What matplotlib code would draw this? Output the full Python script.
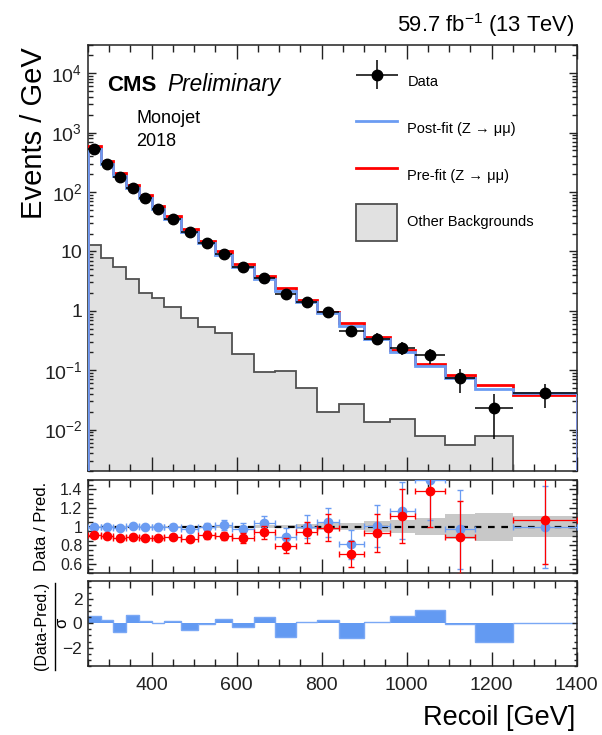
import numpy as np
import matplotlib.pyplot as plt
from matplotlib.container import ErrorbarContainer
from matplotlib.legend_handler import HandlerErrorbar
from matplotlib.lines import Line2D
from matplotlib.patches import Patch
from matplotlib.ticker import MultipleLocator, FixedLocator, FuncFormatter, NullFormatter

plt.rcParams['font.family'] = ['Liberation Sans', 'DejaVu Sans']
plt.rcParams['mathtext.fontset'] = 'custom'
plt.rcParams['mathtext.rm'] = 'Liberation Sans'
plt.rcParams['mathtext.it'] = 'Liberation Sans:italic'
plt.rcParams['mathtext.bf'] = 'Liberation Sans:bold'

# recoil bins (GeV)
edges = np.array([250, 280, 310, 340, 370, 400, 430, 470, 510, 550, 590, 640,
                  690, 740, 790, 840, 900, 960, 1020, 1090, 1160, 1250, 1400])

# events / GeV
data = np.array([535, 297, 181, 118, 78, 51, 35, 21, 13.7, 9.0, 5.4, 3.55,
                 1.92, 1.41, 0.96, 0.45, 0.34, 0.24, 0.177, 0.073, 0.023, 0.041])
data_err = np.array([4.2, 3.1, 2.5, 2.0, 1.6, 1.3, 0.94, 0.72, 0.58, 0.47, 0.33, 0.27,
                     0.20, 0.17, 0.14, 0.087, 0.075, 0.063, 0.05, 0.032, 0.016, 0.018])
postfit = np.array([535, 297, 184.7, 116.8, 78, 51, 35, 21.5, 13.7, 8.82, 5.54, 3.43,
                    2.16, 1.41, 0.919, 0.556, 0.337, 0.205, 0.118, 0.0753, 0.049, 0.041])
prefit = np.array([588, 330, 206.9, 132.6, 88.6, 58.0, 39.3, 24.1, 15.05, 10.0, 6.17, 3.78,
                   2.415, 1.50, 0.97, 0.634, 0.366, 0.216, 0.128, 0.0825, 0.056, 0.0383])
other = np.array([12.6, 7.6, 5.5, 3.4, 2.02, 1.63, 1.18, 0.77, 0.53, 0.43, 0.184, 0.094,
                  0.097, 0.050, 0.0195, 0.0275, 0.0136, 0.0151, 0.0079, 0.0056, 0.0079, 0.0])

# relative uncertainty of the prediction (ratio band)
band = np.array([0.01, 0.01, 0.01, 0.01, 0.01, 0.01, 0.01, 0.01, 0.01, 0.01, 0.01, 0.015,
                 0.02, 0.025, 0.035, 0.035, 0.06, 0.07, 0.09, 0.13, 0.15, 0.11])

# (data - pred) / sigma
pull = np.array([0.61, 0.26, -0.75, 0.67, 0.15, 0.02, 0.2, -0.53, -0.05, 0.34, -0.34, 0.53,
                 -1.1, 0.12, 0.31, -1.21, 0.07, 0.56, 1.1, -0.07, -1.52, 0.02])

centers = 0.5 * (edges[1:] + edges[:-1])
halfw = 0.5 * np.diff(edges)

blue = '#6b9cf2'
red = '#ff0000'
grayfill = '#e1e1e1'
grayedge = '#505050'

fig = plt.figure(figsize=(6.02, 7.35), dpi=100)
ax = fig.add_axes([0.146, 0.359, 0.812, 0.580])
ax2 = fig.add_axes([0.146, 0.220, 0.812, 0.127])
ax3 = fig.add_axes([0.146, 0.094, 0.812, 0.116])

# main panel
ax.stairs(other, edges, baseline=1e-5, fill=True, color=grayfill, zorder=1)
ax.stairs(other, edges, baseline=1e-5, color=grayedge, lw=1.3, zorder=2)
ax.stairs(prefit, edges, color=red, lw=2, zorder=3)
ax.stairs(postfit, edges, color=blue, lw=2, zorder=4)
dat = ax.errorbar(centers, data, xerr=halfw, yerr=data_err, fmt='o', color='black',
                  ms=7.5, elinewidth=1.1, capsize=0, zorder=5)
ax.set_yscale('log')
ylo, yhi = 2e-3, 3e4
ax.set_ylim(ylo, yhi)


def logfmt(v, pos):
    if abs(v - 1) < 1e-9:
        return '1'
    if abs(v - 10) < 1e-9:
        return '10'
    return r'$10^{%d}$' % round(np.log10(v))


decades = 10.0 ** np.arange(-3, 5)
major = [d for d in decades if ylo <= d <= yhi]
minor = [d * s for d in decades for s in range(2, 10) if ylo <= d * s <= yhi]
ax.yaxis.set_major_locator(FixedLocator(major))
ax.yaxis.set_minor_locator(FixedLocator(minor))
ax.yaxis.set_major_formatter(FuncFormatter(logfmt))
ax.yaxis.set_minor_formatter(NullFormatter())

handles = [dat,
           Line2D([], [], color=blue, lw=2),
           Line2D([], [], color=red, lw=2),
           Patch(facecolor=grayfill, edgecolor=grayedge, lw=1.3)]
labels = ['Data', 'Post-fit (Z \u2192 \u03bc\u03bc)', 'Pre-fit (Z \u2192 \u03bc\u03bc)',
          'Other Backgrounds']
ax.legend(handles, labels, loc='upper left', bbox_to_anchor=(349 / 602, 1 - 56 / 735),
          bbox_transform=fig.transFigure, frameon=False, fontsize=10.5, borderpad=0,
          handlelength=2.8, handleheight=3.6, labelspacing=0.62, handletextpad=0.7,
          handler_map={ErrorbarContainer: HandlerErrorbar(xerr_size=1.45, yerr_size=1.0)})

# ratio panel
rb = data / postfit
rb_err = data_err / postfit
rr = data / prefit
rr_err = data_err / prefit
# points outside the range are not shown
rb_show = np.where(rb < 0.5, np.nan, rb)
rr_show = np.where(rr < 0.5, np.nan, rr)

ax2.stairs(1 + band, edges, baseline=1 - band, fill=True, color='#c8c8c8', zorder=1)
ax2.axhline(1, color='black', lw=1.6, ls=(0, (3, 3)), zorder=2)
ax2.errorbar(centers, rb_show, xerr=halfw, yerr=rb_err, fmt='o', color=blue, ms=6,
             elinewidth=0.9, capsize=2, zorder=3)
ax2.errorbar(centers, rr_show, xerr=halfw, yerr=rr_err, fmt='o', color=red, ms=6,
             elinewidth=0.9, capsize=2, zorder=4)
ax2.set_ylim(0.5, 1.5)
ax2.set_yticks([0.6, 0.8, 1.0, 1.2, 1.4])
ax2.set_yticklabels(['0.6', '0.8', '1', '1.2', '1.4'])
ax2.yaxis.set_minor_locator(MultipleLocator(0.05))

# pull panel
ax3.stairs(pull, edges, baseline=0, fill=True, color='#639af2')
ax3.stairs(pull, edges, baseline=None, color='#7aa8f5', lw=1)
ax3.set_ylim(-3.5, 3.5)
ax3.set_yticks([-2, 0, 2])
ax3.yaxis.set_minor_locator(MultipleLocator(0.5))

for a in (ax, ax2, ax3):
    a.set_xlim(250, 1400)
    a.xaxis.set_major_locator(MultipleLocator(200))
    a.xaxis.set_minor_locator(MultipleLocator(50))
    a.tick_params(which='both', direction='in', top=True, right=True, colors='#222222')
    a.tick_params(axis='x', which='major', length=10, width=1)
    a.tick_params(axis='x', which='minor', length=5, width=1)
    a.tick_params(axis='y', which='major', length=6, width=1, pad=4)
    a.tick_params(axis='y', which='minor', length=3.5, width=1)
    for s in a.spines.values():
        s.set_linewidth(1.1)
        s.set_color('#222222')

ax.tick_params(labelbottom=False, labelsize=14)
ax2.tick_params(labelbottom=False, labelsize=11.5)
ax3.tick_params(axis='y', labelsize=12.5)
ax3.tick_params(axis='x', labelsize=14, pad=8)
ax3.tick_params(axis='y', which='major', length=3.5)
ax3.tick_params(axis='y', which='minor', length=2)

# texts
fig.text(575 / 602, 1 - 32 / 735, r'59.7 fb$^{-1}$ (13 TeV)', ha='right', va='baseline',
         fontsize=15.8)
fig.text(107 / 602, 1 - 91 / 735, 'CMS', fontweight='bold', fontsize=16, va='baseline')
fig.text(167 / 602, 1 - 91 / 735, 'Preliminary', fontstyle='italic', fontsize=16.3,
         va='baseline')
fig.text(136 / 602, 1 - 123 / 735, 'Monojet', fontsize=13, va='baseline')
fig.text(136 / 602, 1 - 146 / 735, '2018', fontsize=13, va='baseline')

fig.text(34 / 602, 1 - 47 / 735, 'Events / GeV', rotation=90, ha='center', va='top',
         fontsize=21)
fig.text(41 / 602, 1 - 526 / 735, 'Data / Pred.', rotation=90, ha='center', va='center',
         fontsize=12)
fig.text(42 / 602, 1 - 626 / 735, '(Data-Pred.)', rotation=90, ha='center', va='center',
         fontsize=11.5)
fig.add_artist(Line2D([55 / 602, 55 / 602], [1 - 583 / 735, 1 - 670 / 735],
                      transform=fig.transFigure, color='black', lw=1))
fig.text(62 / 602, 1 - 623 / 735, '\u03c3', rotation=90, ha='center', va='center',
         fontsize=12)
fig.text(575 / 602, 1 - 718 / 735, 'Recoil [GeV]', ha='right', va='center', fontsize=19.5)

fig.savefig('out.png', dpi=100)
